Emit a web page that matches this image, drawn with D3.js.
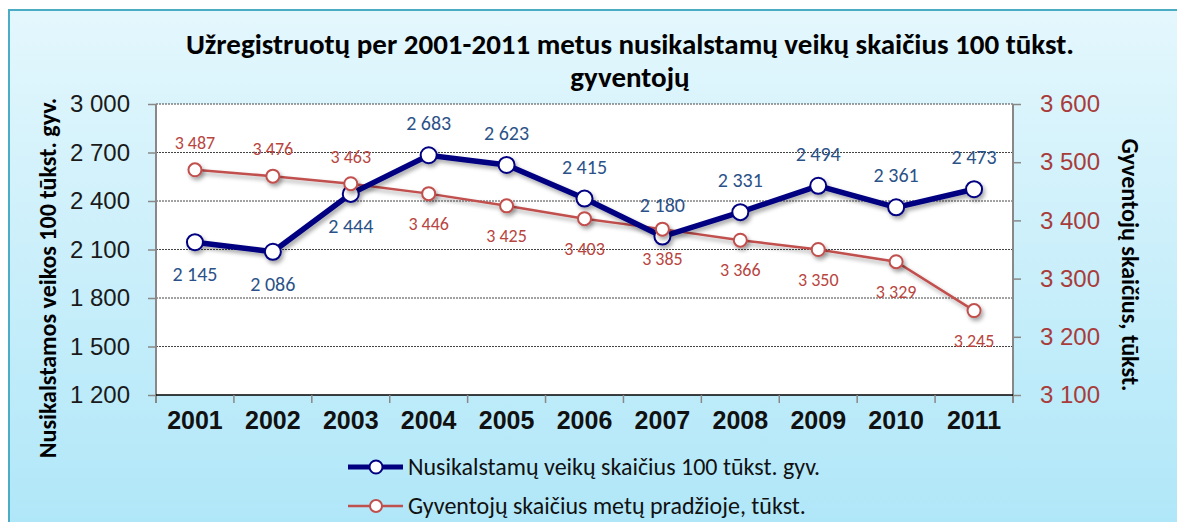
<!DOCTYPE html>
<html>
<head>
<meta charset="utf-8">
<script src="https://cdn.jsdelivr.net/npm/d3@7"></script>
<style>
  body { margin: 0; background: #fff; }
  svg { display: block; font-family: Calibri, Carlito, Lato, "Open Sans", sans-serif; }
</style>
</head>
<body>
<div id="wrapper"></div>
<script>
// duomenys
const years = ["2001", "2002", "2003", "2004", "2005", "2006", "2007", "2008", "2009", "2010", "2011"];
const crimes = [2145, 2086, 2444, 2683, 2623, 2415, 2180, 2331, 2494, 2361, 2473];
const population = [3487, 3476, 3463, 3446, 3425, 3403, 3385, 3366, 3350, 3329, 3245];
const leftTicks = [1200, 1500, 1800, 2100, 2400, 2700, 3000];
const rightTicks = [3100, 3200, 3300, 3400, 3500, 3600];
// kur etiketė: 1 = virš, -1 = po
const crimeLabelSide = [-1, -1, -1, 1, 1, 1, 1, 1, 1, 1, 1];
const popLabelSide = [1, 1, 1, -1, -1, -1, -1, -1, -1, -1, -1];

const title1 = "Užregistruotų per 2001-2011 metus nusikalstamų veikų skaičius 100 tūkst.";
const title2 = "gyventojų";
const leftTitle = "Nusikalstamos veikos 100  tūkst. gyv.";
const rightTitle = "Gyventojų skaičius, tūkst.";
const legendNames = ["Nusikalstamų veikų skaičius 100 tūkst. gyv.", "Gyventojų skaičius metų pradžioje, tūkst."];

const fmt = v => d3.format(",")(v).replace(/,/g, " ");

const width = 1177, height = 522;
const plot = { left: 156, right: 1013, top: 104, bottom: 395 };

const svg = d3.select("#wrapper").append("svg")
  .attr("width", width)
  .attr("height", height);

const defs = svg.append("defs");
const grad = defs.append("linearGradient").attr("id", "bg")
  .attr("x1", 0).attr("y1", 0).attr("x2", 0).attr("y2", 1);
grad.append("stop").attr("offset", "0%").attr("stop-color", "#e4f7fd");
grad.append("stop").attr("offset", "100%").attr("stop-color", "#ade6f8");

const shadow = defs.append("filter").attr("id", "shadow")
  .attr("x", "-10%").attr("y", "-10%").attr("width", "130%").attr("height", "140%");
shadow.append("feDropShadow")
  .attr("dx", 2).attr("dy", 3).attr("stdDeviation", 2)
  .attr("flood-color", "#000").attr("flood-opacity", 0.35);

// fonas
svg.append("rect")
  .attr("x", 9).attr("y", 10)
  .attr("width", width + 20).attr("height", height + 20)
  .attr("fill", "url(#bg)")
  .attr("stroke", "#4bacc6").attr("stroke-width", 2);

svg.append("rect")
  .attr("x", plot.left).attr("y", plot.top)
  .attr("width", plot.right - plot.left).attr("height", plot.bottom - plot.top)
  .attr("fill", "#fff");

// skalės
const xScale = d3.scaleBand().domain(years).range([plot.left, plot.right]).padding(0);
const xc = d => xScale(d) + xScale.bandwidth() / 2;
const yLeft = d3.scaleLinear().domain([1200, 3000]).range([plot.bottom, plot.top]);
const yRight = d3.scaleLinear().domain([3100, 3600]).range([plot.bottom, plot.top]);

// tinklelis
svg.append("g").selectAll("line")
  .data(leftTicks.filter(t => t > 1200))
  .join("line")
  .attr("x1", plot.left).attr("x2", plot.right)
  .attr("y1", d => yLeft(d)).attr("y2", d => yLeft(d))
  .attr("stroke", "#444")
  .attr("stroke-width", 1)
  .attr("stroke-dasharray", "2,1");

// kairė ašis
const leftAxis = svg.append("g")
  .attr("transform", `translate(${plot.left},0)`)
  .call(d3.axisLeft(yLeft).tickValues(leftTicks).tickSize(8).tickPadding(18).tickFormat(fmt));
leftAxis.select(".domain").attr("stroke", "#888").attr("stroke-width", 2)
  .attr("d", `M0,${plot.top}V${plot.bottom + 8}`);
leftAxis.selectAll(".tick line").attr("stroke", "#888").attr("stroke-width", 1.5);
leftAxis.selectAll(".tick text")
  .attr("fill", "#1a1a1a").style("font-size", "24px");

// dešinė ašis
const rightAxis = svg.append("g")
  .attr("transform", `translate(${plot.right},0)`)
  .call(d3.axisRight(yRight).tickValues(rightTicks).tickSize(8).tickPadding(19).tickFormat(fmt));
rightAxis.select(".domain").attr("stroke", "#888").attr("stroke-width", 2)
  .attr("d", `M0,${plot.top}V${plot.bottom + 8}`);
rightAxis.selectAll(".tick line").attr("stroke", "#888").attr("stroke-width", 1.5);
rightAxis.selectAll(".tick text")
  .attr("fill", "#a83c3a").style("font-size", "24px");

// x ašis
const xAxis = svg.append("g")
  .attr("transform", `translate(0,${plot.bottom})`)
  .call(d3.axisBottom(xScale).tickSize(0).tickPadding(16));
xAxis.select(".domain").attr("stroke", "#000").attr("stroke-width", 1.5)
  .attr("d", `M${plot.left},0H${plot.right}`);
xAxis.selectAll(".tick text")
  .attr("fill", "#111").style("font-size", "25px").style("font-weight", "bold");
svg.append("g").selectAll("line")
  .data(years.slice(1))
  .join("line")
  .attr("x1", d => xScale(d)).attr("x2", d => xScale(d))
  .attr("y1", plot.bottom).attr("y2", plot.bottom + 8)
  .attr("stroke", "#888").attr("stroke-width", 1.5);

// pavadinimai
svg.append("text")
  .attr("x", 630).attr("y", 54)
  .attr("text-anchor", "middle")
  .style("font-size", "29px").style("font-weight", "bold")
  .text(title1);
svg.append("text")
  .attr("x", 630).attr("y", 87)
  .attr("text-anchor", "middle")
  .style("font-size", "29px").style("font-weight", "bold")
  .text(title2);
svg.append("text")
  .attr("transform", `translate(56,278) rotate(-90)`)
  .attr("text-anchor", "middle")
  .style("font-size", "24px").style("font-weight", "bold")
  .text(leftTitle);
svg.append("text")
  .attr("transform", `translate(1122,265) rotate(90)`)
  .attr("text-anchor", "middle")
  .style("font-size", "24px").style("font-weight", "bold")
  .text(rightTitle);

// linijos
const popLine = d3.line().x((d, i) => xc(years[i])).y(d => yRight(d));
const crimeLine = d3.line().x((d, i) => xc(years[i])).y(d => yLeft(d));

const popG = svg.append("g").attr("filter", "url(#shadow)");
popG.append("path")
  .attr("d", popLine(population))
  .attr("fill", "none").attr("stroke", "#c0504d").attr("stroke-width", 2.5);

const crimeG = svg.append("g").attr("filter", "url(#shadow)");
crimeG.append("path")
  .attr("d", crimeLine(crimes))
  .attr("fill", "none").attr("stroke", "#000080").attr("stroke-width", 5.5);
crimeG.selectAll("circle")
  .data(crimes)
  .join("circle")
  .attr("cx", (d, i) => xc(years[i])).attr("cy", d => yLeft(d))
  .attr("r", 8)
  .attr("fill", "#fff").attr("stroke", "#000080").attr("stroke-width", 2);

// raudoni taškai virš mėlynos linijos
const popMarks = svg.append("g").attr("filter", "url(#shadow)");
popMarks.selectAll("circle")
  .data(population)
  .join("circle")
  .attr("cx", (d, i) => xc(years[i])).attr("cy", d => yRight(d))
  .attr("r", 6.5)
  .attr("fill", "#fff").attr("stroke", "#c0504d").attr("stroke-width", 2);

// duomenų etiketės
svg.append("g").selectAll("text")
  .data(crimes)
  .join("text")
  .attr("x", (d, i) => xc(years[i]))
  .attr("y", (d, i) => yLeft(d) - crimeLabelSide[i] * 32 + 7)
  .attr("text-anchor", "middle")
  .attr("fill", "#2b5288")
  .style("font-size", "20px")
  .text(fmt);

svg.append("g").selectAll("text")
  .data(population)
  .join("text")
  .attr("x", (d, i) => xc(years[i]))
  .attr("y", (d, i) => yRight(d) - popLabelSide[i] * (popLabelSide[i] > 0 ? 27 : 30) + 6)
  .attr("text-anchor", "middle")
  .attr("fill", "#b84540")
  .style("font-size", "18px")
  .text(fmt);

// legenda
const legend = svg.append("g");
const legendRows = [
  { y: 467, color: "#000080", width: 5, r: 6.5, name: legendNames[0] },
  { y: 506, color: "#c0504d", width: 2.5, r: 6, name: legendNames[1] }
];
legendRows.forEach(row => {
  legend.append("line")
    .attr("x1", 348).attr("x2", 403)
    .attr("y1", row.y).attr("y2", row.y)
    .attr("stroke", row.color).attr("stroke-width", row.width);
  legend.append("circle")
    .attr("cx", 376).attr("cy", row.y).attr("r", row.r)
    .attr("fill", "#fff").attr("stroke", row.color).attr("stroke-width", 2);
  legend.append("text")
    .attr("x", 408).attr("y", row.y + 8)
    .style("font-size", "24px").attr("fill", "#111")
    .text(row.name);
});
</script>
</body>
</html>
